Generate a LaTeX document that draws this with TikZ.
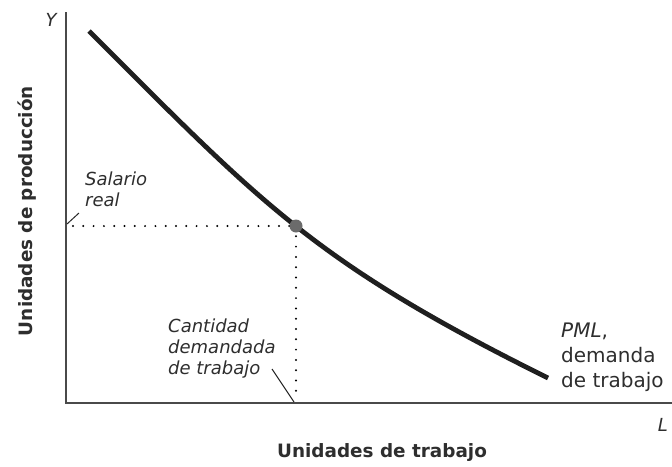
\documentclass[tikz,border=0pt]{standalone}
\usepackage{fontspec}
\setmainfont{DejaVu Sans}
\definecolor{txt}{HTML}{2E2E2E}
\definecolor{axisc}{HTML}{4A4A4A}
\definecolor{ptc}{HTML}{6B6B6B}
\begin{document}
\begin{tikzpicture}[x=1pt,y=-1pt,
  axisline/.style={draw=axisc,line width=1.3pt},
  curveline/.style={draw=black!88,line width=4.8pt},
  dotline/.style={draw=black,line width=2.2pt,line cap=round,dash pattern=on 0pt off 10.3pt},
  leader/.style={draw=black!85,line width=1pt},
  lbl/.style={text=txt,font=\fontsize{18}{21}\selectfont\itshape,align=left,inner sep=0pt},
  lblr/.style={text=txt,font=\fontsize{20}{25}\selectfont,align=left,inner sep=0pt},
  axlbl/.style={text=txt,font=\fontsize{18}{20}\selectfont\itshape,inner sep=0pt},
  ttl/.style={text=txt,font=\fontsize{18.4}{20}\selectfont\bfseries,inner sep=0pt}]
\useasboundingbox (0,0) rectangle (672,466);
% axes
\coordinate (O) at (66,403);
\coordinate (Ytop) at (66,12);
\coordinate (Xend) at (672,403);
\draw[axisline] (Ytop) -- (O) -- (Xend);
\node[axlbl,anchor=center] (ylab) at (51,20) {Y};
\node[axlbl,anchor=center] (xlab) at (663,425) {L};
% curve
\coordinate (c0) at (89,31);
\coordinate (c1) at (548,378);
\draw[curveline] (c0) .. controls (262,204) and (314,262) .. (c1);
% equilibrium point
\coordinate (E) at (296,226);
\coordinate (Ey) at (73,226);
\coordinate (Ex) at (296,400);
\draw[dotline] (Ey) -- (E);
\draw[dotline] (E) -- (Ex);
\fill[ptc] (E) circle (6.5);
% labels
\node[lbl,anchor=base west] (sal) at (85,206) {Salario\\real};
\coordinate (salA) at (79,213);
\coordinate (salB) at (67,224);
\draw[leader] (salA) -- (salB);
\node[lbl,anchor=base west] (cant) at (168,374) {Cantidad\\demandada\\de trabajo};
\coordinate (cantA) at (272,369);
\coordinate (cantB) at (294,402);
\draw[leader] (cantA) -- (cantB);
\node[lblr,anchor=base west] (pml) at (561,387) {\textit{PML},\\demanda\\de trabajo};
% titles
\node[ttl,rotate=90,anchor=base] (ytitle) at (32,211) {Unidades de producción};
\node[ttl,anchor=base] (xtitle) at (382,457) {Unidades de trabajo};
\end{tikzpicture}
\end{document}
